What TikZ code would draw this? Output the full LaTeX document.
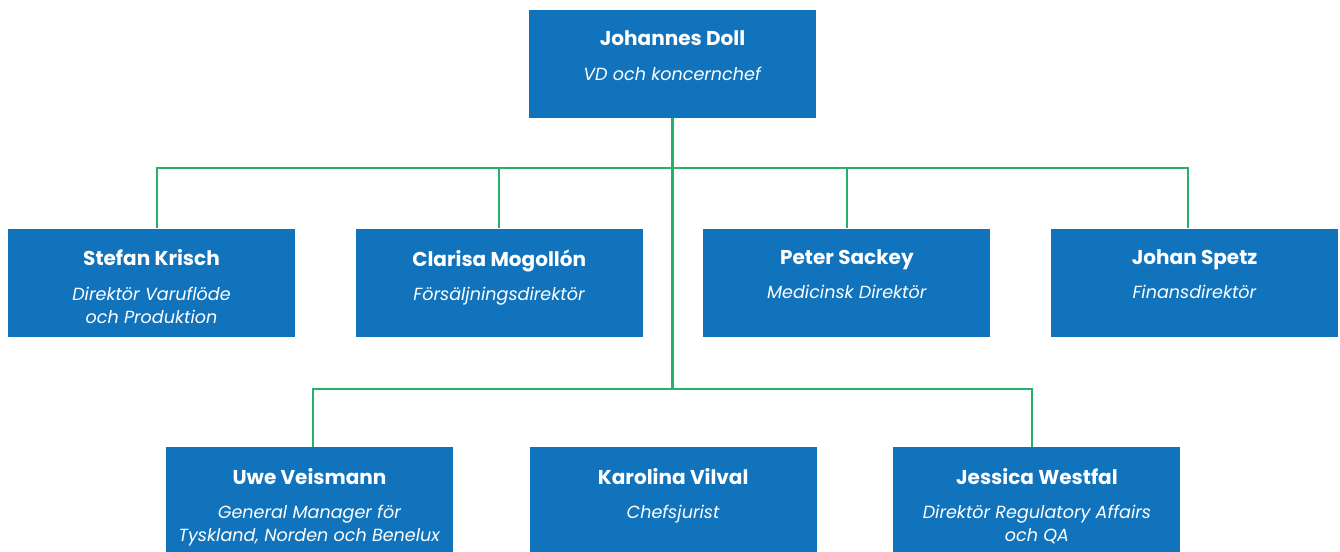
\documentclass[tikz,border=0pt]{standalone}
\usepackage{fontspec}
\setmainfont{Poppins}
\usepackage{tikz}
\usetikzlibrary{positioning}

\definecolor{boxblue}{RGB}{17,115,187}
\definecolor{linegreen}{RGB}{38,176,106}

\tikzset{
  person/.style={fill=boxblue, draw=none, minimum width=5.74cm, minimum height=2.16cm, inner sep=0pt},
  persontext/.style={anchor=north, inner sep=0pt, text=white, align=center, font=\fontsize{10}{13.2}\selectfont},
  link/.style={draw=linegreen, line width=1.2pt}
}

% namn + titel i en ruta
\newcommand{\who}[2]{{\bfseries\fontsize{11.4}{14}\selectfont #1}\\[6.5pt]\textit{#2}}

\begin{document}
\begin{tikzpicture}
    \useasboundingbox (0,0) rectangle (26.8,-11.02);
    % VD
    \node[person] (ceo) at (13.45,-1.28) {};
    % Ledningsgrupp, rad 1
    \node[person] (stefan) at (3.03,-5.65) {};
    \node[person, right=1.2cm of stefan] (clarisa) {};
    \node[person, right=1.2cm of clarisa] (peter) {};
    \node[person, right=1.2cm of peter] (johan) {};
    % Ledningsgrupp, rad 2
    \node[person] (uwe) at (6.19,-10.02) {};
    \node[person, right=1.52cm of uwe] (karolina) {};
    \node[person, right=1.52cm of karolina] (jessica) {};

    % Texter
    \node[persontext] (ceo-t) at ([yshift=-0.42cm]ceo.north) {\who{Johannes Doll}{VD och koncernchef}};
    \node[persontext] (stefan-t) at ([yshift=-0.42cm]stefan.north) {\who{Stefan Krisch}{Direktör Varuflöde}\\\textit{och Produktion}};
    \node[persontext] (clarisa-t) at ([yshift=-0.42cm]clarisa.north) {\who{Clarisa Mogollón}{Försäljningsdirektör}};
    \node[persontext] (peter-t) at ([yshift=-0.42cm]peter.north) {\who{Peter Sackey}{Medicinsk Direktör}};
    \node[persontext] (johan-t) at ([yshift=-0.42cm]johan.north) {\who{Johan Spetz}{Finansdirektör}};
    \node[persontext] (uwe-t) at ([yshift=-0.42cm]uwe.north) {\who{Uwe Veismann}{General Manager för}\\\textit{Tyskland, Norden och Benelux}};
    \node[persontext] (karolina-t) at ([yshift=-0.42cm]karolina.north) {\who{Karolina Vilval}{Chefsjurist}};
    \node[persontext] (jessica-t) at ([yshift=-0.42cm]jessica.north) {\who{Jessica Westfal}{Direktör Regulatory Affairs}\\\textit{och QA}};

    % Linjer
    \coordinate (bus1) at ([yshift=-1.0cm]ceo.south);
    \coordinate (bus2) at ([yshift=-5.42cm]ceo.south);
    \draw[link] (ceo.south) -- (bus2);
    \draw[link] ([xshift=0.11cm]stefan.north) |- (bus1) -| ([xshift=-0.13cm]johan.north);
    \draw[link] (clarisa.north) -- (clarisa.north |- bus1);
    \draw[link] (peter.north) -- (peter.north |- bus1);
    \draw[link] ([xshift=0.07cm]uwe.north) |- (bus2) -| ([xshift=-0.09cm]jessica.north);
\end{tikzpicture}
\end{document}
